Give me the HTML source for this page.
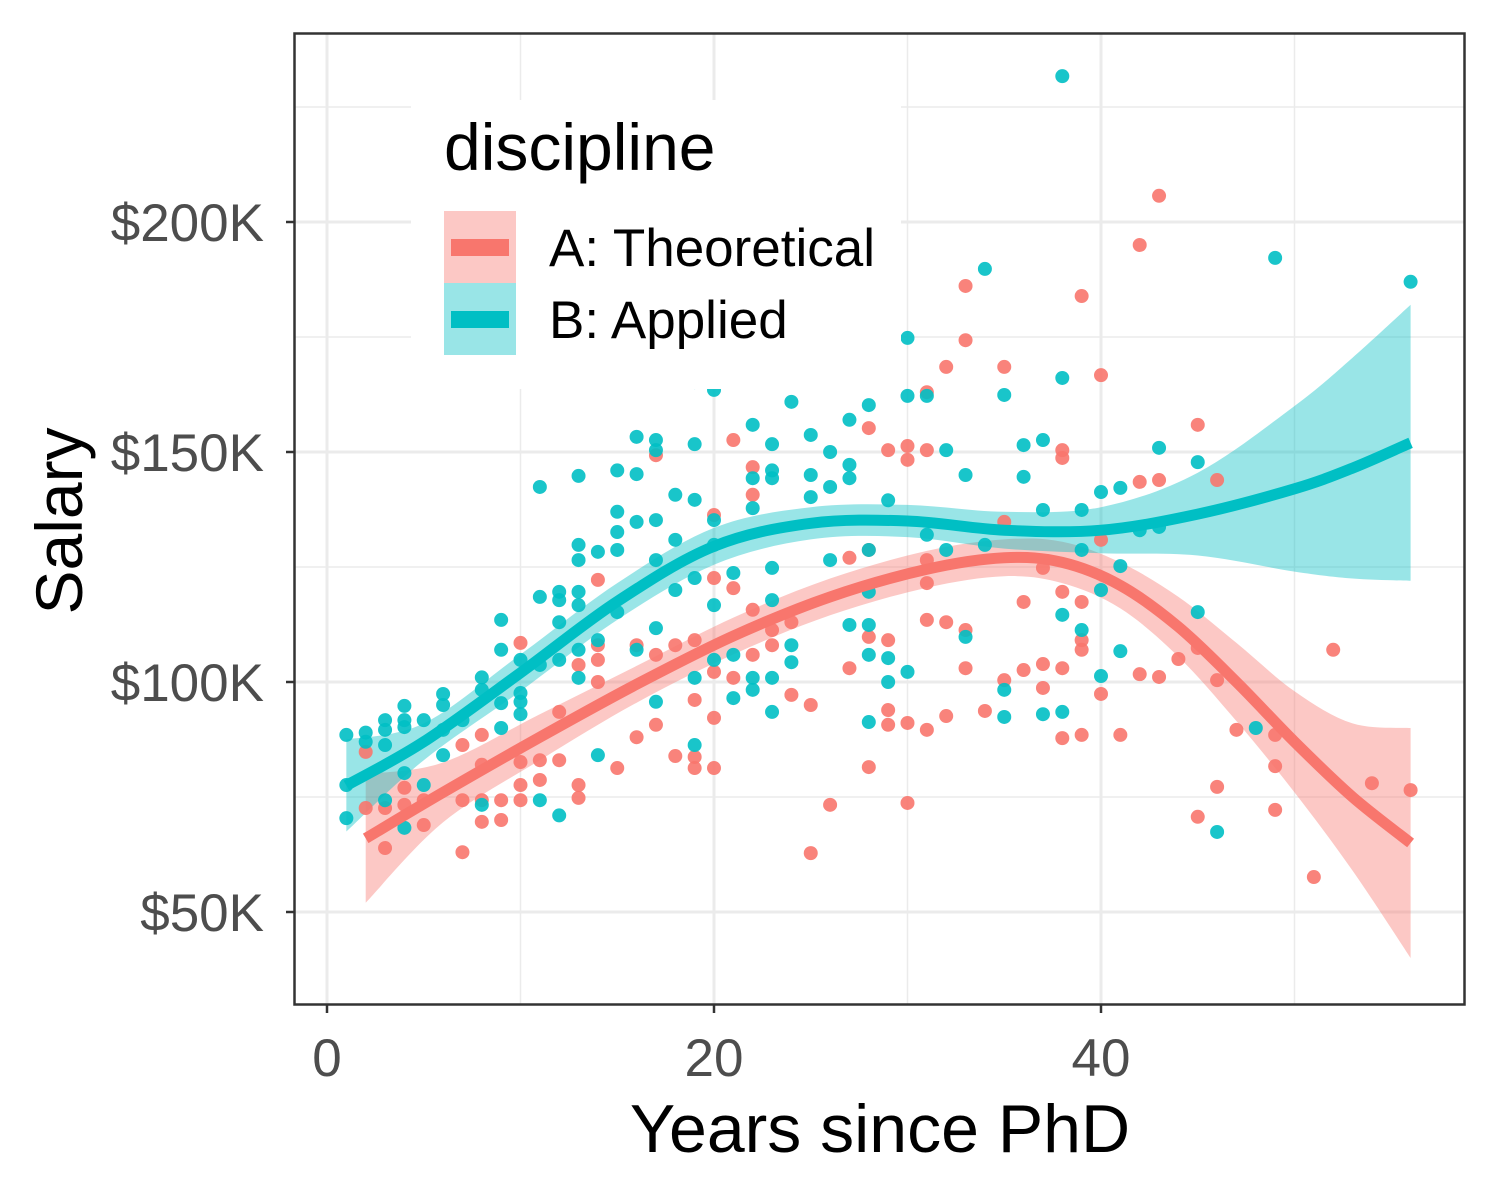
<!DOCTYPE html>
<html><head><meta charset="utf-8">
<style>
html,body{margin:0;padding:0;background:#fff;}
svg{display:block;font-family:"Liberation Sans",Arial,sans-serif;}
</style></head>
<body>
<svg id="chart" width="1500" height="1200" viewBox="0 0 1500 1200" xmlns="http://www.w3.org/2000/svg">
<rect x="0" y="0" width="1500" height="1200" fill="#fff"/>
<g id="grid"></g>
<g id="bands"></g>
<g id="points"></g>
<g id="lines"></g>
<g id="legend">
  <rect x="411" y="100" width="490" height="289" fill="#fff"/>
  <text x="444" y="170" font-size="66" fill="#000">discipline</text>
  <g>
    <rect x="444" y="211" width="72" height="72" fill="#F8766D" fill-opacity="0.4"/>
    <rect x="451" y="239" width="58" height="17" fill="#F8766D"/>
    <text x="549" y="266" font-size="53" fill="#000">A: Theoretical</text>
  </g>
  <g>
    <rect x="444" y="283" width="72" height="72" fill="#00BFC4" fill-opacity="0.4"/>
    <rect x="451" y="311" width="58" height="17" fill="#00BFC4"/>
    <text x="549" y="338" font-size="53" fill="#000">B: Applied</text>
  </g>
</g>
<rect x="294.5" y="33.5" width="1170" height="971" fill="none" stroke="#333" stroke-width="2.5"/>
<g id="axes"></g>
<text x="880" y="1152" font-size="68" text-anchor="middle" fill="#000">Years since PhD</text>
<text transform="translate(82,521) rotate(-90)" font-size="66" text-anchor="middle" fill="#000">Salary</text>
</svg>
<script>
const xTicks = [0, 20, 40];
const xMinor = [10, 30, 50];
const yTicks = [50, 100, 150, 200];
const yTickLabels = ["$50K", "$100K", "$150K", "$200K"];
const yMinor = [75, 125, 175, 225];

const bPoints = [[1,88.5],[1,70.4],[1,77.6],[2,89],[2,87],[3,91.7],[3,89.6],[3,86.3],[3,74.3],[4,94.8],[4,91.7],[4,90.2],[4,80.2],[4,68.3],[5,91.7],[5,77.6],[6,97.4],[6,95],[6,89.6],[6,84.1],[7,91.7],[8,101],[8,98.3],[8,73.3],[9,113.5],[9,107],[9,95.4],[9,90],[10,104.8],[10,97.6],[10,95.7],[10,93],[11,142.4],[11,118.5],[11,103.7],[11,74.3],[12,119.6],[12,117.8],[12,113],[12,104.8],[12,71],[13,144.8],[13,129.8],[13,126.5],[13,119.6],[13,116.7],[13,107],[13,100.9],[14,128.3],[14,109.1],[14,84.1],[15,146],[15,137],[15,132.6],[15,128.7],[15,115.2],[16,153.3],[16,145.2],[16,134.8],[16,107],[17,152.6],[17,150.4],[17,135.2],[17,126.5],[17,111.7],[17,95.7],[18,140.7],[18,130.9],[18,120],[19,165.2],[19,151.7],[19,139.6],[19,122.6],[19,100.9],[19,86.3],[20,163.5],[20,135.2],[20,129.8],[20,116.7],[20,104.8],[21,123.7],[21,105.9],[21,96.5],[22,155.9],[22,144.3],[22,137.8],[22,100.9],[22,98.3],[23,151.7],[23,146],[23,144.3],[23,124.8],[23,117.8],[23,100.9],[23,93.5],[24,160.9],[24,108],[24,104.3],[25,153.7],[25,145],[25,140.2],[26,150],[26,142.4],[26,126.5],[27,157],[27,147.2],[27,144.3],[27,112.4],[28,160.2],[28,128.7],[28,119.6],[28,112.4],[28,105.9],[28,91.3],[29,105.2],[29,100],[29,139.5],[30,174.8],[30,162.2],[30,102.2],[31,162.2],[31,132],[32,150.4],[32,128.7],[33,145],[33,109.8],[34,189.8],[34,129.8],[35,162.4],[35,98.3],[35,92.4],[36,151.5],[36,144.6],[37,152.6],[37,137.4],[37,93],[38,231.7],[38,166.1],[38,114.6],[38,93.5],[39,128.7],[39,111.3],[39,137.4],[40,141.3],[40,120],[40,101.3],[41,142.2],[41,125.2],[41,106.7],[42,133],[43,150.9],[43,133.7],[45,147.8],[45,115.2],[46,67.4],[48,90],[49,192.2],[56,187]];

const aPoints = [[2,84.8],[2,72.6],[3,72.6],[3,63.9],[4,77],[4,73.3],[5,68.9],[5,74.3],[7,86.3],[7,74.3],[7,63],[8,88.5],[8,82],[8,74.3],[8,69.6],[9,70],[9,74.3],[10,108.5],[10,82.6],[10,77.6],[10,74.3],[11,83],[11,78.7],[12,83],[12,93.5],[13,103.7],[13,77.6],[13,74.8],[14,122.2],[14,108],[14,104.8],[14,100],[15,81.3],[16,108],[16,88],[17,149.3],[17,105.9],[17,90.7],[18,108],[18,83.9],[19,96.1],[19,83.7],[19,81.3],[19,109.1],[20,136.3],[20,122.6],[20,102.2],[20,92.2],[20,81.3],[21,152.6],[21,120.4],[21,100.9],[22,146.7],[22,140.7],[22,115.7],[22,105.9],[23,111.3],[23,108],[24,113],[24,97.2],[25,95],[25,62.8],[26,73.3],[27,127],[27,103],[28,155.2],[28,128.7],[28,109.8],[28,81.5],[29,150.4],[29,109.1],[29,93.9],[29,90.7],[30,151.3],[30,148.3],[30,91.1],[30,73.7],[31,163],[31,150.4],[31,126.5],[31,121.5],[31,113.5],[31,89.6],[32,168.5],[32,113],[32,92.6],[33,186.1],[33,174.3],[33,111.3],[33,103],[34,93.7],[35,168.5],[35,134.8],[35,100.4],[36,117.4],[36,102.6],[37,124.8],[37,103.9],[37,98.7],[38,150.4],[38,148.7],[38,119.6],[38,103],[38,87.8],[39,183.9],[39,117.4],[39,109.1],[39,107],[39,88.5],[40,166.7],[40,130.9],[40,97.4],[41,88.5],[42,195],[42,143.5],[42,101.7],[43,205.7],[43,143.9],[43,101.1],[44,105],[45,155.9],[45,107.4],[45,70.7],[46,143.9],[46,100.4],[46,77.2],[47,89.6],[49,88.5],[49,81.7],[49,72.2],[51,57.6],[52,107],[54,78],[56,76.5]];

const aFitX = [2,6,11,16,21,26,31,35,38,41,44,47,50,53,56];
const aFit = [66,76,88,99.5,110,118.5,124.5,127,126,121,112,100,87,75,65];
const aHalf = [14,6.5,5,4,4,4,4,4,4.5,5,6.5,8.5,11,16,25];
const bFitX = [1,5,10,15,20,25,30,35,40,45,50,53,56];
const bFit = [77.5,87,102,117.5,129.5,134.5,135,133,133,136.5,142,146.5,152];
const bHalf = [10,4,4,4,4,3.5,3.5,4,5,9,18,24,30];

const X = v => 327 + v * 19.35;
const Y = v => 912 - (v - 50) * 4.6;
const NS = "http://www.w3.org/2000/svg";
function mk(tag, attrs, parent){const e=document.createElementNS(NS,tag);for(const k in attrs)e.setAttribute(k,attrs[k]);parent.appendChild(e);return e;}

const grid = document.getElementById('grid');
const axes = document.getElementById('axes');
const L=294, R=1465, T=33, B=1005;
yMinor.forEach(v=>{const e=mk('line',{x1:L,x2:R,y1:Y(v),y2:Y(v),stroke:'#ebebeb','stroke-width':1.5},grid);

});
xMinor.forEach(v=>{const e=mk('line',{x1:X(v),x2:X(v),y1:T,y2:B,stroke:'#ebebeb','stroke-width':1.5},grid);

});
yTicks.forEach((v,i)=>{
 const g=mk('line',{x1:L,x2:R,y1:Y(v),y2:Y(v),stroke:'#ebebeb','stroke-width':3},grid);
 
 
 const t=mk('line',{x1:L-8,x2:L,y1:Y(v),y2:Y(v),stroke:'#333','stroke-width':2.5},axes);
 
 
 const tx=mk('text',{x:L-30,y:Y(v)+19,'font-size':53,'text-anchor':'end',fill:'#4d4d4d'},axes);
 tx.textContent=yTickLabels[i];
 
 
});
xTicks.forEach(v=>{
 const g=mk('line',{x1:X(v),x2:X(v),y1:T,y2:B,stroke:'#ebebeb','stroke-width':3},grid);
 
 
 const t=mk('line',{x1:X(v),x2:X(v),y1:B,y2:B+8,stroke:'#333','stroke-width':2.5},axes);
 
 
 const tx=mk('text',{x:X(v),y:B+71,'font-size':53,'text-anchor':'middle',fill:'#4d4d4d'},axes);
 tx.textContent=String(v);
 
 
});

function smooth(xs, ys){
 const p=xs.map((x,i)=>[X(x),Y(ys[i])]);
 let d='M'+p[0][0]+','+p[0][1];
 for(let i=0;i<p.length-1;i++){
  const p0=p[Math.max(0,i-1)],p1=p[i],p2=p[i+1],p3=p[Math.min(p.length-1,i+2)];
  const c1=[p1[0]+(p2[0]-p0[0])/6,p1[1]+(p2[1]-p0[1])/6];
  const c2=[p2[0]-(p3[0]-p1[0])/6,p2[1]-(p3[1]-p1[1])/6];
  d+=' C'+c1[0]+','+c1[1]+' '+c2[0]+','+c2[1]+' '+p2[0]+','+p2[1];
 }
 return d;
}
function bandPath(xs,fit,half){
 const hi=fit.map((f,i)=>f+half[i]);
 const lo=fit.map((f,i)=>f-half[i]);
 const top=smooth(xs,hi);
 const bot=smooth(xs.slice().reverse(),lo.slice().reverse());
 return top+' L'+bot.slice(1)+' Z';
}
const bands=document.getElementById('bands');
const pts=document.getElementById('points');
const lines=document.getElementById('lines');

const ba=mk('path',{d:bandPath(aFitX,aFit,aHalf),fill:'#F8766D','fill-opacity':0.4},bands);


const bb=mk('path',{d:bandPath(bFitX,bFit,bHalf),fill:'#00BFC4','fill-opacity':0.4},bands);



const all=[];
aPoints.forEach(p=>all.push([p,'#F8766D','point-theoretical']));
bPoints.forEach(p=>all.push([p,'#00BFC4','point-applied']));
all.forEach(([p,c,n])=>{
 const e=mk('circle',{cx:X(p[0]),cy:Y(p[1]),r:7,fill:c,'fill-opacity':0.9},pts);
 
 
});

const la=mk('path',{d:smooth(aFitX,aFit),fill:'none',stroke:'#F8766D','stroke-width':11},lines);


const lb=mk('path',{d:smooth(bFitX,bFit),fill:'none',stroke:'#00BFC4','stroke-width':11},lines);


</script>
</body></html>
